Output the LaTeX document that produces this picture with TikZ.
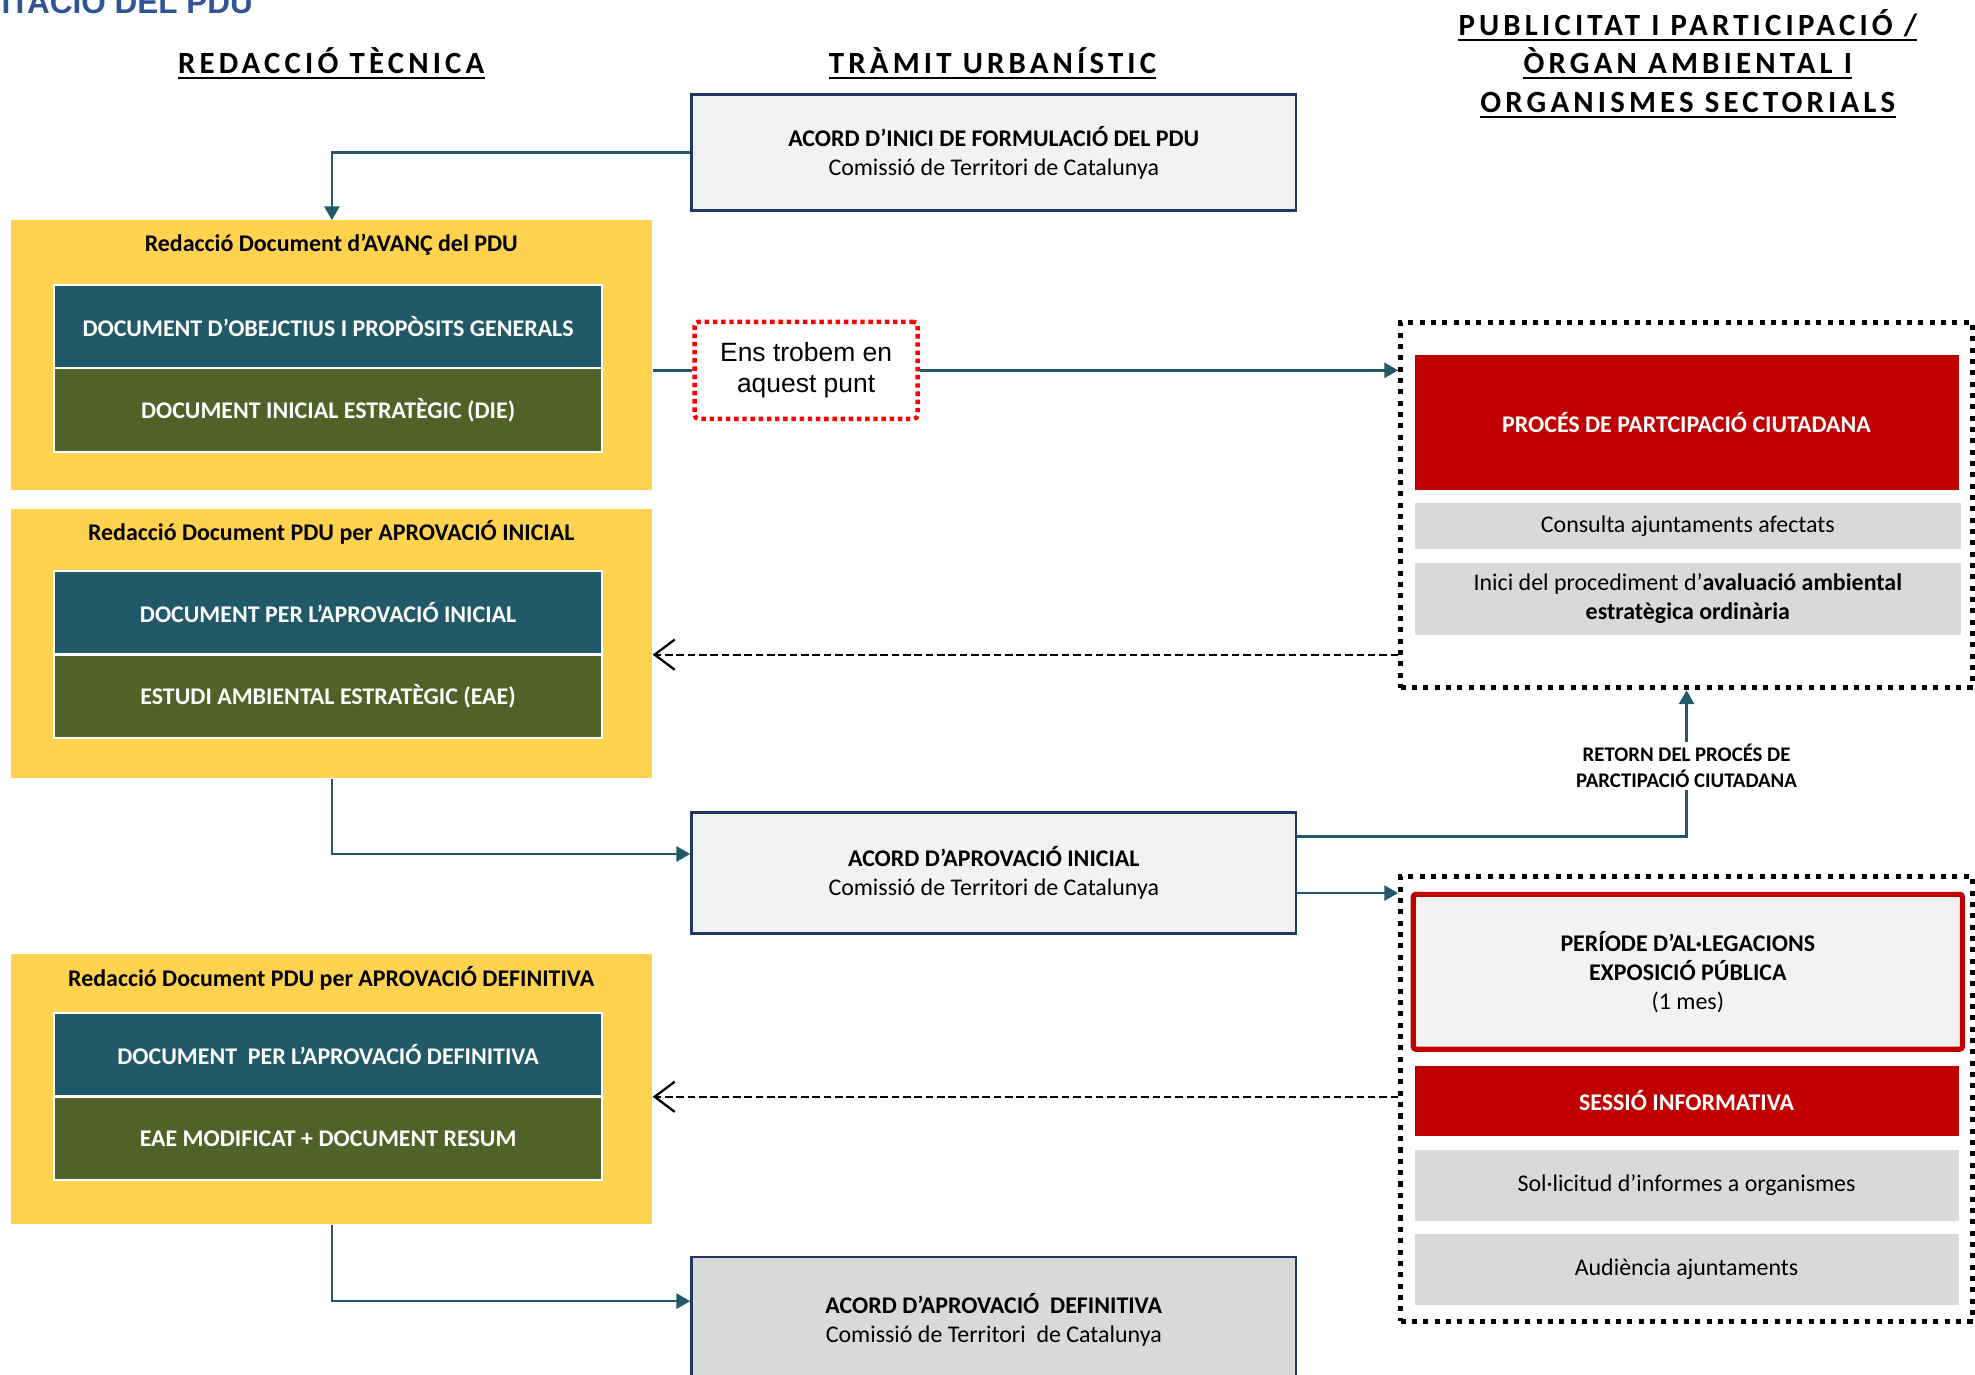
\documentclass[tikz,border=0pt]{standalone}
\usepackage{fontspec}
\setmainfont{Carlito}
\newfontfamily\headfont{Carlito}[LetterSpace=13.5]
\newfontfamily\arialfont{Liberation Sans}
\usetikzlibrary{arrows.meta,calc}
\definecolor{yel}{HTML}{FFD34F}
\definecolor{tealc}{HTML}{215968}
\definecolor{greenc}{HTML}{4F6228}
\definecolor{redc}{HTML}{C00000}
\definecolor{lightg}{HTML}{F2F2F2}
\definecolor{greyc}{HTML}{D9D9D9}
\definecolor{navy}{HTML}{1F3864}
\definecolor{connc}{HTML}{215968}
\definecolor{titleblue}{HTML}{2F5597}
\begin{document}
\begin{tikzpicture}[x=1pt,y=-1pt,
  txt/.style={font=\fontsize{19}{23}\selectfont},
  btxt/.style={font=\fontsize{19}{23}\selectfont\bfseries},
  box/.style={rectangle,inner sep=0pt,align=center},
  acord/.style={box,txt,draw=navy,line width=2pt,fill=lightg,minimum width=480pt},
  yellowbox/.style={rectangle,inner sep=0pt,fill=yel,minimum width=509pt},
  ytitle/.style={btxt,inner sep=0pt},
  tealbox/.style={box,btxt,fill=tealc,draw=white,line width=1.5pt,text=white,minimum width=435pt,minimum height=66pt},
  greenbox/.style={box,btxt,fill=greenc,draw=white,line width=1.5pt,text=white,minimum width=435pt,minimum height=66pt},
  redbox/.style={box,btxt,fill=redc,text=white,minimum width=432pt},
  greybox/.style={box,txt,fill=greyc,minimum width=434pt},
  grp/.style={rectangle,inner sep=0pt,draw=black,line width=4pt,dash pattern=on 4pt off 5pt,minimum width=454pt},
  head/.style={font=\headfont\fontsize{24.5}{28}\selectfont\bfseries,inner sep=0pt,anchor=base},
  uline/.style={line width=1.8pt,black},
  conn/.style={draw=connc,line width=2pt,-{Triangle[length=11pt,width=12pt]}},
  plain/.style={draw=connc,line width=2pt},
  back/.style={draw=black,line width=1.8pt,dash pattern=on 6pt off 3pt,-{Straight Barb[length=16pt,width=24pt,line width=1.8pt]}}
]
\useasboundingbox (0,0) rectangle (1568,1091.6);

% title (cut off at the top edge, as in the original)
\node[font=\arialfont\fontsize{25}{30}\selectfont\bfseries,text=titleblue,inner sep=0pt,anchor=base west] (title) at (1,11) {ITACIÓ DEL PDU};

% headings
\node[head] (h1) at (263,58) {REDACCIÓ TÈCNICA};
\node[head] (h2) at (788,58) {TRÀMIT URBANÍSTIC};
\node[head] (h3a) at (1340,28) {PUBLICITAT I PARTICIPACIÓ /};
\node[head] (h3b) at (1340,58) {ÒRGAN AMBIENTAL I};
\node[head] (h3c) at (1340,89) {ORGANISMES SECTORIALS};
\foreach \h in {h1,h2,h3a,h3b,h3c}{
  \draw[uline] ([yshift=-4pt]\h.base west) -- ([yshift=-4pt]\h.base east);
}

% middle column
\node[acord,minimum height=92pt] (acord1) at (789,121) {{\bfseries ACORD D’INICI DE FORMULACIÓ DEL PDU}\\Comissió de Territori de Catalunya};
\node[acord,minimum height=96pt] (acord2) at (789,693) {{\bfseries ACORD D’APROVACIÓ INICIAL}\\Comissió de Territori de Catalunya};
\node[acord,fill=greyc,minimum height=99pt] (acord3) at (789,1047.5) {{\bfseries ACORD D’APROVACIÓ\ \ DEFINITIVA}\\Comissió de Territori\ \ de Catalunya};

% left column
\node[yellowbox,minimum height=214pt] (y1) at (263.5,282) {};
\node[ytitle] (y1t) at (263,194) {Redacció Document d’AVANÇ del PDU};
\node[tealbox] (t1) at (260.5,259) {DOCUMENT D’OBEJCTIUS I PROPÒSITS GENERALS};
\node[greenbox] (g1) at (260.5,325.5) {DOCUMENT INICIAL ESTRATÈGIC (DIE)};

\node[yellowbox,minimum height=214pt] (y2) at (263.5,511) {};
\node[ytitle] (y2t) at (263,423) {Redacció Document PDU per APROVACIÓ INICIAL};
\node[tealbox] (t2) at (260.5,486) {DOCUMENT PER L’APROVACIÓ INICIAL};
\node[greenbox] (g2) at (260.5,553) {ESTUDI AMBIENTAL ESTRATÈGIC (EAE)};

\node[yellowbox,minimum height=215pt] (y3) at (263.5,864.5) {};
\node[ytitle] (y3t) at (263,777) {Redacció Document PDU per APROVACIÓ DEFINITIVA};
\node[tealbox] (t3) at (260.5,837) {DOCUMENT\ \ PER L’APROVACIÓ DEFINITIVA};
\node[greenbox] (g3) at (260.5,904) {EAE MODIFICAT + DOCUMENT RESUM};

% "we are here"
\node[box,draw=red,line width=3.5pt,dash pattern=on 3.5pt off 3pt,rounded corners=3pt,minimum width=177pt,minimum height=77pt,font=\arialfont\fontsize{21}{25}\selectfont] (here) at (640,294) {Ens trobem en\\aquest punt};

% right column, group 1
\node[grp,minimum height=290pt] (grp1) at (1339,401) {};
\node[redbox,minimum height=107pt] (proc) at (1339,335.5) {PROCÉS DE PARTCIPACIÓ CIUTADANA};
\node[greybox,minimum height=37pt] (cons) at (1340,417.5) {Consulta ajuntaments afectats};
\node[greybox,minimum height=57pt] (inici) at (1340,475.5) {Inici del procediment d’\textbf{avaluació ambiental}\\\textbf{estratègica ordinària}};

% right column, group 2
\node[grp,minimum height=353pt] (grp2) at (1339,872.5) {};
\node[box,btxt,draw=redc,line width=4pt,fill=lightg,rounded corners=2pt,minimum width=436pt,minimum height=123pt] (peri) at (1340,771.5) {PERÍODE D’AL·LEGACIONS\\EXPOSICIÓ PÚBLICA\\{\mdseries (1 mes)}};
\node[redbox,minimum height=56pt] (sess) at (1339,874) {SESSIÓ INFORMATIVA};
\node[greybox,minimum width=432pt,minimum height=56pt] (soli) at (1339,941) {Sol·licitud d’informes a organismes};
\node[greybox,minimum width=432pt,minimum height=56pt] (aud) at (1339,1008) {Audiència ajuntaments};

% connectors
\draw[conn] (acord1.west) -| (y1.north);
\draw[plain] (y1.east |- here.west) -- (here.west);
\draw[conn] (here.east) -- (here.east -| grp1.west);
\draw[back] (grp1.west |- t2.south) -- (y2.east |- t2.south);
\draw[conn] (y2.south) |- ([yshift=15pt]acord2.west);
\draw[conn] ([yshift=29pt]acord2.east) -| (grp1.south);
\node[fill=white,inner sep=2pt,align=center,font=\fontsize{16.5}{20}\selectfont\bfseries] (retorn) at (1339,608) {RETORN DEL PROCÉS DE\\PARCTIPACIÓ CIUTADANA};
\draw[conn] ([yshift=-16pt]acord2.east) -- ([yshift=-16pt]acord2.east -| grp2.west);
\draw[back] (grp2.west |- t3.south) -- (y3.east |- t3.south);
\draw[conn] (y3.south) |- ([yshift=14.5pt]acord3.west);
\end{tikzpicture}
\end{document}
